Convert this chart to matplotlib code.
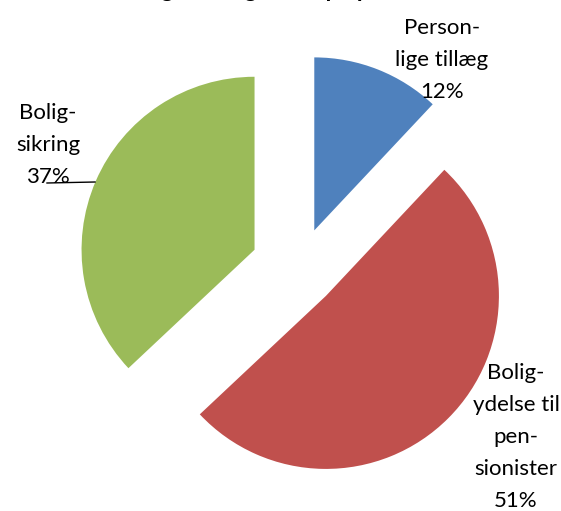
import matplotlib
matplotlib.use("Agg")
import matplotlib.pyplot as plt

# ── data ──────────────────────────────────────────────────────────────────────
categories = ["Person-\nlige tillæg", "Bolig-\nydelse til\npen-\nsionister", "Bolig-\nsikring"]
shares = [12, 51, 37]
colors = ["#4F81BD", "#C0504D", "#9BBB59"]
explode = [0.24, 0.22, 0.28]
title = "Fordeling af boligstøtte på poster"

# ── geometry (pixels of a 561x511 canvas) ─────────────────────────────────────
W, H = 561, 511
CX, CY, R = 299, 269, 173


def px(x, y):
    return (x - CX) / R, (CY - y) / R


fig = plt.figure(figsize=(W / 100, H / 100), dpi=100, facecolor="white")
ax = fig.add_axes([0, 0, 1, 1])
ax.pie(shares, colors=colors, explode=explode, startangle=90, counterclock=False,
       radius=1, wedgeprops=dict(linewidth=0))
ax.set_xlim(-CX / R, (W - CX) / R)
ax.set_ylim((CY - H) / R, CY / R)
ax.set_aspect("auto")
ax.axis("off")

FONT = "Lato"
label_pos = [(442, 60), (516, 437), (48, 145)]
for cat, val, (lx, ly) in zip(categories, shares, label_pos):
    x, y = px(lx, ly)
    ax.text(x, y, f"{cat}\n{val}%", ha="center", va="center", fontsize=16,
            family=FONT, linespacing=1.76, color="black")

# leader line for Boligsikring
x0, y0 = px(47, 183)
x1, y1 = px(95, 182)
ax.plot([x0, x1], [y0, y1], color="black", linewidth=1)

# title: only the descenders reach into the visible canvas
fig.text(0.445, 1 - 0.5 / H, title, ha="center", va="bottom", fontsize=17,
         fontweight="bold", family=FONT)

fig.savefig("out.png", dpi=100, facecolor="white")
